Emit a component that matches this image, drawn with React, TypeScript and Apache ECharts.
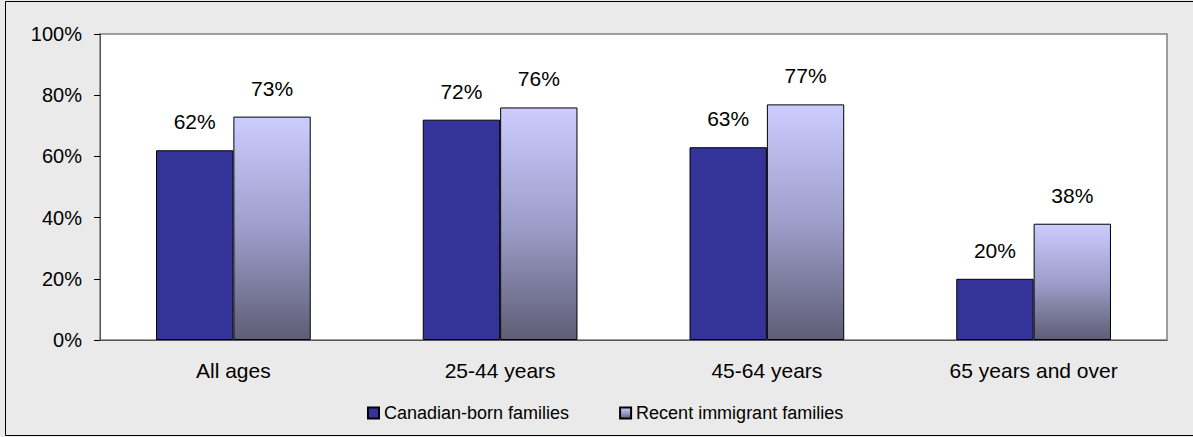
import React, { useEffect, useRef } from "react";
import * as echarts from "echarts";

const categories = ["All ages", "25-44 years", "45-64 years", "65 years and over"];
const canadianBorn = [62, 72, 63, 20];
const recentImmigrant = [73, 76, 77, 38];
const seriesNames = ["Canadian-born families", "Recent immigrant families"];
const yTicks = [0, 20, 40, 60, 80, 100];

const FONT = "'Liberation Sans', Arial, sans-serif";

export default function App() {
  const ref = useRef<HTMLDivElement>(null);
  useEffect(() => {
    document.body.style.margin = "0";
    const chart = echarts.init(ref.current!, null, { renderer: "svg" });
    const grad = new echarts.graphic.LinearGradient(0, 0, 0, 1, [
      { offset: 0, color: "#ccccff" },
      { offset: 0.5, color: "#9e9ecb" },
      { offset: 1, color: "#5e5e76" },
    ]);
    const label = {
      show: true,
      position: "top",
      distance: 18,
      fontSize: 21,
      color: "#000",
      fontFamily: FONT,
      formatter: (p: any) => p.value + "%",
    };
    chart.setOption({
      animation: false,
      backgroundColor: "#eaeaea",
      textStyle: { fontFamily: FONT },
      graphic: [
        {
          type: "rect",
          shape: { x: 5.5, y: 1.5, width: 1192, height: 434 },
          style: { fill: "none", stroke: "#000", lineWidth: 1 },
          silent: true,
        },
      ],
      grid: {
        left: 100,
        right: 26,
        top: 34,
        bottom: 97,
        show: true,
        backgroundColor: "#ffffff",
        borderColor: "#808080",
        borderWidth: 1.5,
      },
      legend: {
        left: 362,
        top: 399,
        itemWidth: 11,
        itemHeight: 11,
        itemGap: 50,
        icon: "rect",
        textStyle: { fontSize: 18, color: "#000", fontFamily: FONT },
        data: seriesNames,
      },
      xAxis: {
        type: "category",
        data: categories,
        axisLine: { lineStyle: { color: "#555555", width: 1 } },
        axisTick: { show: false },
        axisLabel: { fontSize: 21, color: "#000", margin: 20, fontFamily: FONT },
      },
      yAxis: {
        type: "value",
        min: yTicks[0],
        max: yTicks[yTicks.length - 1],
        interval: 20,
        axisLine: { show: true, lineStyle: { color: "#555555", width: 1 } },
        axisTick: { show: true, length: 6, lineStyle: { color: "#000" } },
        splitLine: { show: false },
        axisLabel: {
          fontSize: 20,
          color: "#000",
          margin: 18,
          fontFamily: FONT,
          formatter: (v: number) => v + "%",
        },
      },
      series: [
        {
          name: seriesNames[0],
          type: "bar",
          data: canadianBorn,
          barGap: "0%",
          barCategoryGap: "42%",
          itemStyle: { color: "#333399", borderColor: "#000", borderWidth: 1 },
          label,
        },
        {
          name: seriesNames[1],
          type: "bar",
          data: recentImmigrant,
          barGap: "0%",
          barCategoryGap: "42%",
          itemStyle: { color: grad, borderColor: "#000", borderWidth: 1 },
          label,
        },
      ],
    });
    return () => chart.dispose();
  }, []);
  return <div ref={ref} style={{ width: 1193, height: 437 }} />;
}
